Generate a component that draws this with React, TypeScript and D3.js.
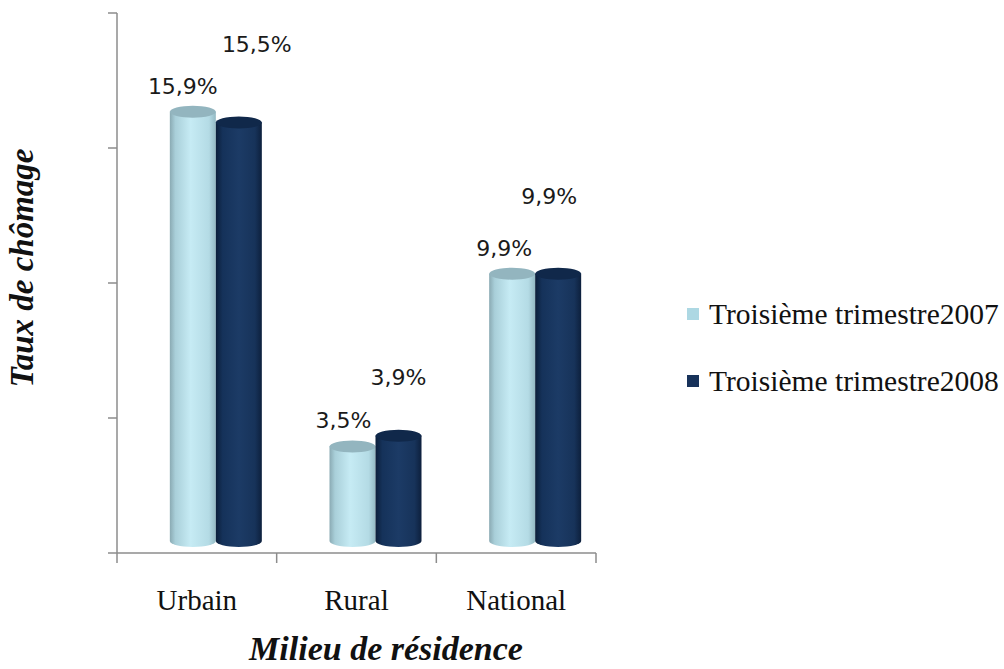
import React from "react";
import * as d3 from "d3";

const categories = ["Urbain", "Rural", "National"];
const seriesNames = ["Troisième trimestre2007", "Troisième trimestre2008"];
const values2007 = [15.9, 3.5, 9.9];
const values2008 = [15.5, 3.9, 9.9];
const valueLabels2007 = ["15,9%", "3,5%", "9,9%"];
const valueLabels2008 = ["15,5%", "3,9%", "9,9%"];
const yTicks = [0, 5, 10, 15, 20];

// label offsets (style): [dx, dy] relative to top of each cylinder
const labelOffsets = [
  [[-10, -18], [-9, -19], [-8, -18]],
  [[18, -71], [0, -51], [-9, -70]],
];

const W = 1004;
const H = 669;

export default function App() {
  const x = d3.scaleBand<string>().domain(categories).range([117, 596]);
  const y = d3.scaleLinear().domain([0, 20]).range([553, 13]);
  const depthX = 19;
  const depthY = -12;
  const barW = 46;
  const ry = 6;
  const series = [values2007, values2008];
  const labels = [valueLabels2007, valueLabels2008];

  const cyl = (cx: number, top: number, base: number, s: number, key: string) => {
    const rx = barW / 2;
    const left = cx - rx;
    const right = cx + rx;
    const body = `M${left},${top} L${left},${base} A${rx},${ry} 0 0 0 ${right},${base} L${right},${top} Z`;
    return (
      <g key={key}>
        <path d={body} fill={`url(#grad${s})`} />
        <ellipse cx={cx} cy={top} rx={rx} ry={ry} fill={s === 0 ? "#93b5bf" : "#10284a"} />
      </g>
    );
  };

  return (
    <svg width={W} height={H} style={{ position: "absolute", left: 0, top: 0, background: "#fff" }}>
      <defs>
        <linearGradient id="grad0" x1="0" x2="1" y1="0" y2="0">
          <stop offset="0" stopColor="#8aaab3" />
          <stop offset="0.12" stopColor="#a9cfd9" />
          <stop offset="0.45" stopColor="#c6ebf4" />
          <stop offset="0.85" stopColor="#b4dbe5" />
          <stop offset="1" stopColor="#94b9c3" />
        </linearGradient>
        <linearGradient id="grad1" x1="0" x2="1" y1="0" y2="0">
          <stop offset="0" stopColor="#0c1f3a" />
          <stop offset="0.15" stopColor="#15325a" />
          <stop offset="0.5" stopColor="#1c3b66" />
          <stop offset="0.85" stopColor="#17335a" />
          <stop offset="1" stopColor="#0d203d" />
        </linearGradient>
      </defs>

      {/* axes */}
      <line x1={117} x2={117} y1={y(20)} y2={y(0)} stroke="#8c8c8c" strokeWidth={1.5} />
      {yTicks.map((t) => (
        <line key={t} x1={108} x2={117} y1={y(t)} y2={y(t)} stroke="#8c8c8c" strokeWidth={1.5} />
      ))}
      <line x1={117} x2={596} y1={y(0)} y2={y(0)} stroke="#8c8c8c" strokeWidth={1.5} />
      {[0, 1, 2, 3].map((i) => {
        const xx = 117 + i * x.bandwidth();
        return <line key={i} x1={xx} x2={xx} y1={y(0)} y2={y(0) + 10} stroke="#8c8c8c" strokeWidth={1.5} />;
      })}

      {/* bars */}
      {categories.map((c, ci) => {
        const center = (x(c) as number) + x.bandwidth() / 2 + depthX;
        return series.map((vals, s) => {
          const cx = s === 0 ? center - barW / 2 : center + barW / 2;
          const top = y(vals[ci]) + depthY;
          const base = y(0) + depthY;
          return cyl(cx, top, base, s, `${c}-${s}`);
        });
      })}

      {/* value labels */}
      {categories.map((c, ci) => {
        const center = (x(c) as number) + x.bandwidth() / 2 + depthX;
        return series.map((vals, s) => {
          const cx = s === 0 ? center - barW / 2 : center + barW / 2;
          const top = y(vals[ci]) + depthY;
          const [dx, dy] = labelOffsets[s][ci];
          return (
            <text
              key={`l-${c}-${s}`}
              x={cx + dx}
              y={top + dy}
              textAnchor="middle"
              fontFamily="DejaVu Sans, sans-serif"
              fontSize={22}
              fill="#1a1a1a"
            >
              {labels[s][ci]}
            </text>
          );
        });
      })}

      {/* category labels */}
      {categories.map((c) => (
        <text
          key={`c-${c}`}
          x={(x(c) as number) + x.bandwidth() / 2}
          y={610}
          textAnchor="middle"
          fontFamily="Liberation Serif, serif"
          fontSize={29}
          fill="#111"
        >
          {c}
        </text>
      ))}

      {/* axis titles */}
      <text
        x={386}
        y={660}
        textAnchor="middle"
        fontFamily="Liberation Serif, serif"
        fontStyle="italic"
        fontWeight="bold"
        fontSize={34}
        fill="#111"
      >
        Milieu de résidence
      </text>
      <text
        transform="translate(33,268) rotate(-90)"
        textAnchor="middle"
        fontFamily="Liberation Serif, serif"
        fontStyle="italic"
        fontWeight="bold"
        fontSize={33}
        fill="#111"
      >
        Taux de chômage
      </text>

      {/* legend */}
      {seriesNames.map((n, i) => (
        <g key={n}>
          <rect x={687} y={308 + i * 67} width={12} height={12} fill={i === 0 ? "#add8e3" : "#17325a"} />
          <text x={709} y={324 + i * 67} fontFamily="Liberation Serif, serif" fontSize={29.5} fill="#111">
            {n}
          </text>
        </g>
      ))}
    </svg>
  );
}
